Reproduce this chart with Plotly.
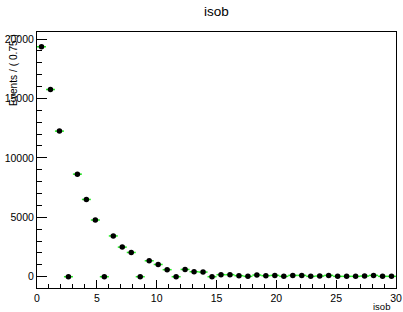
import numpy as np
import plotly.graph_objects as go

bin_width = 0.75
bin_centers = [0.375 + 0.75 * i for i in range(40)]
events = [19350, 15750, 12250, 0, 8630, 6500, 4770, 0, 3430, 2490,
          2040, 0, 1340, 1030, 590, 0, 610, 420, 390, 0,
          170, 170, 85, 30, 140, 85, 110, 30, 110, 110,
          30, 55, 110, 30, 30, 30, 55, 110, 30, 30]
y_err = [float(np.sqrt(v)) for v in events]
x_err = [bin_width / 2] * len(events)

x_ticks = [0, 5, 10, 15, 20, 25, 30]
y_ticks = [0, 5000, 10000, 15000, 20000]

font = "Liberation Sans, Arial, Helvetica, sans-serif"

fig = go.Figure()
fig.add_trace(go.Scatter(
    x=bin_centers, y=events, mode="markers",
    marker=dict(color="black", size=5.5, symbol="circle"),
    error_x=dict(type="data", array=x_err, color="#22ee22", thickness=1.5, width=0),
    error_y=dict(type="data", array=y_err, color="#22ee22", thickness=1.5, width=0),
    showlegend=False,
))

fig.update_layout(
    width=403, height=312,
    margin=dict(l=37, r=7, t=32, b=24, autoexpand=False),
    paper_bgcolor="white", plot_bgcolor="white",
    font=dict(family=font, size=10.5, color="black"),
    title=dict(text="isob", xref="paper", x=0.5, xanchor="center",
               yref="container", y=1 - 11.5 / 312, yanchor="middle",
               font=dict(size=13.5, family=font, color="black")),
    xaxis=dict(
        range=[0, 30], tickvals=x_ticks, ticktext=[str(v) for v in x_ticks],
        ticks="inside", ticklen=8, tickcolor="black",
        showline=True, linecolor="black", linewidth=1, mirror=True,
        showgrid=False, zeroline=False, automargin=False,
        minor=dict(ticks="inside", ticklen=4, dtick=1, tickcolor="black", showgrid=False),
        tickfont=dict(size=10.5, color="black"),
    ),
    yaxis=dict(
        range=[-950, 20590], tickvals=y_ticks, ticktext=[str(v) for v in y_ticks],
        ticks="inside", ticklen=10, tickcolor="black",
        showline=True, linecolor="black", linewidth=1, mirror=True,
        showgrid=False, zeroline=False, automargin=False,
        minor=dict(ticks="inside", ticklen=5, dtick=1000, tickcolor="black", showgrid=False),
        tickfont=dict(size=10.5, color="black"),
    ),
    annotations=[
        dict(text="Events / ( 0.75 )", textangle=-90, xref="paper", yref="paper",
             x=-0.067, y=1.0, xanchor="center", yanchor="top", showarrow=False,
             font=dict(size=10.2, color="black")),
        dict(text="isob", xref="paper", yref="paper", x=0.99, y=-(306 - 288) / 256,
             xanchor="right", yanchor="middle", showarrow=False,
             font=dict(size=9.5, color="black")),
    ],
)

fig.write_html("out.html", config={"displayModeBar": False},
               post_script="document.body.style.margin='0';document.body.style.padding='0';")
